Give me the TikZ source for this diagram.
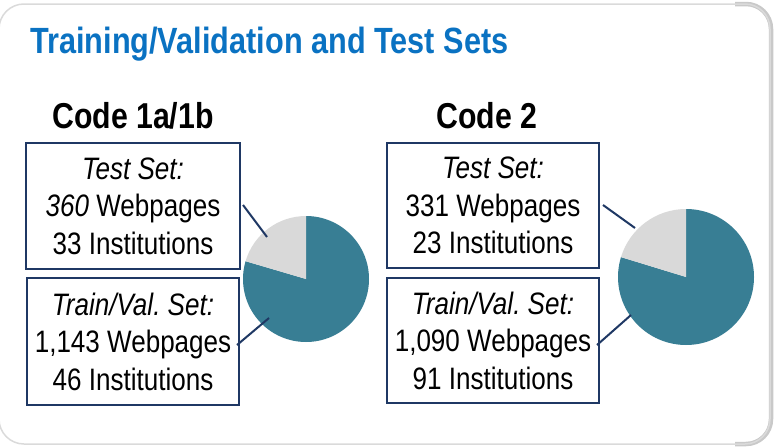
\documentclass[tikz,border=0pt]{standalone}
\usepackage{fontspec}
\setmainfont{Liberation Sans}[FakeStretch=0.84]
\definecolor{titleblue}{HTML}{0A72C2}
\definecolor{navy}{HTML}{1F3864}
\definecolor{pieteal}{HTML}{387E94}
\definecolor{piegray}{HTML}{D9D9D9}
\definecolor{bordergray}{HTML}{DADADA}
\definecolor{shadowgray}{HTML}{C9C9C9}
\tikzset{
  setbox/.style={draw=navy, line width=2pt, minimum width=212pt, inner sep=0pt,
    align=center, font=\fontsize{31}{37.5}\selectfont},
  heading/.style={font=\bfseries\fontsize{36}{42}\selectfont, inner sep=0pt},
  connector/.style={draw=navy, line width=2pt},
}
\begin{document}
\begin{tikzpicture}[x=1pt,y=-1pt]
\useasboundingbox (0,0) rectangle (781,447);
% frame
\draw[shadowgray, line width=4.5pt, rounded corners=25pt] (735,4) -- (771,4) -- (771,444) -- (735,444);
\draw[bordergray, line width=1.5pt, rounded corners=25pt] (-1,4) rectangle (770,444);
% title
\node[heading, anchor=base west, text=titleblue, font=\bfseries\fontsize{36.5}{42}\selectfont] (title) at (30,53) {Training/Validation and Test Sets};
% headings
\node[heading, anchor=base] (codeA) at (133,128) {Code 1a/1b};
\node[heading, anchor=base] (codeB) at (487,128) {Code 2};
% boxes code 1a/1b
\node[setbox, minimum width=214pt, minimum height=126pt] (testA) at (133,206)
  {\textit{Test Set:}\\\textit{360} Webpages\\33 Institutions};
\node[setbox, minimum height=127pt] (trainA) at (133,341.5)
  {\textit{Train/Val.\ Set:}\\1,143 Webpages\\46 Institutions};
% boxes code 2
\node[setbox, minimum height=125pt] (testB) at (493,205.5)
  {\textit{Test Set:}\\331 Webpages\\23 Institutions};
\node[setbox, minimum height=125pt] (trainB) at (493,340.5)
  {\textit{Train/Val.\ Set:}\\1,090 Webpages\\91 Institutions};
% pie A
\coordinate (pieA) at (306,279);
\fill[pieteal] (pieA) -- ++(-90:63) arc[start angle=-90, end angle=196.4, radius=63] -- cycle;
\fill[piegray] (pieA) -- ++(-90:63) arc[start angle=-90, end angle=-163.6, radius=63] -- cycle;
% pie B
\coordinate (pieB) at (686,277);
\fill[pieteal] (pieB) -- ++(-90:68) arc[start angle=-90, end angle=197, radius=68] -- cycle;
\fill[piegray] (pieB) -- ++(-90:68) arc[start angle=-90, end angle=-163, radius=68] -- cycle;
% connectors
\coordinate (tAs) at (243,205);
\coordinate (tAe) at (267,237);
\coordinate (rAs) at (237,345);
\coordinate (rAe) at (269,318);
\coordinate (tBs) at (603,205);
\coordinate (tBe) at (635,228);
\coordinate (rBs) at (597,345);
\coordinate (rBe) at (631,315);
\draw[connector] (tAs) -- (tAe);
\draw[connector] (rAs) -- (rAe);
\draw[connector] (tBs) -- (tBe);
\draw[connector] (rBs) -- (rBe);
\end{tikzpicture}
\end{document}
